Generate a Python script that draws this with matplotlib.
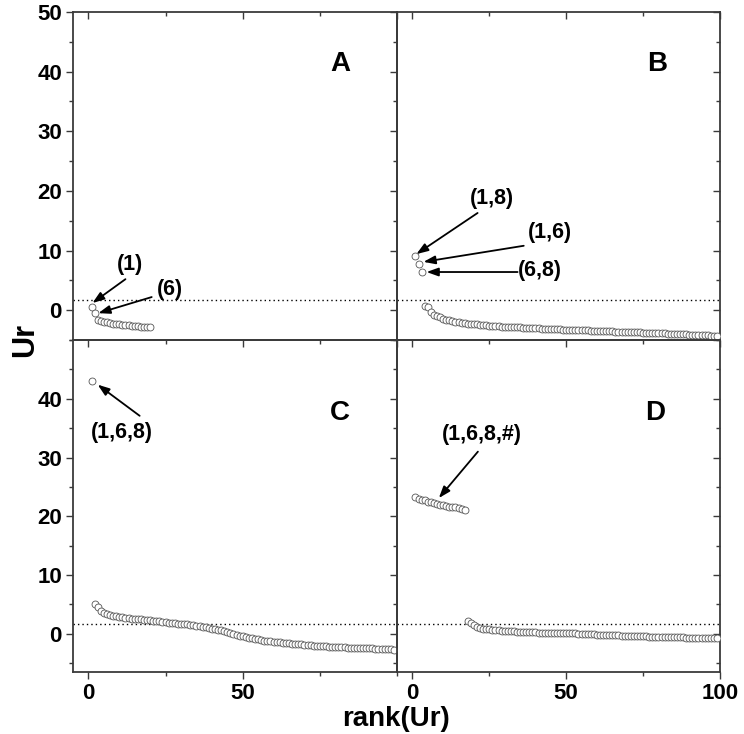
import numpy as np
import matplotlib
matplotlib.use('Agg')
from matplotlib import pyplot as plt
from matplotlib.ticker import MultipleLocator

plt.rcParams['font.family'] = ['Liberation Sans', 'DejaVu Sans']
plt.rcParams['font.weight'] = 'bold'

# Ur values ordered by rank, one list per panel
ur_A = [0.5, -0.4, -1.6, -1.8, -1.95, -2.05, -2.15, -2.25, -2.3, -2.4,
        -2.45, -2.5, -2.55, -2.6, -2.65, -2.7, -2.75, -2.8, -2.85, -2.9]

ur_B = [9.1, 7.7, 6.4, 0.7, 0.6,
        -0.3, -0.8, -1.0, -1.2, -1.4,
        -1.6, -1.7, -1.8, -1.9, -2.0,
        -2.1, -2.2, -2.25, -2.3, -2.35,
        -2.4, -2.45, -2.5, -2.55, -2.6,
        -2.65, -2.7, -2.72, -2.75, -2.78,
        -2.8, -2.83, -2.86, -2.88, -2.9,
        -2.93, -2.96, -2.98, -3.0, -3.03,
        -3.05, -3.08, -3.1, -3.12, -3.15,
        -3.17, -3.2, -3.22, -3.24, -3.26,
        -3.28, -3.3, -3.32, -3.34, -3.36,
        -3.38, -3.4, -3.42, -3.44, -3.46,
        -3.48, -3.5, -3.52, -3.54, -3.56,
        -3.58, -3.6, -3.62, -3.64, -3.66,
        -3.68, -3.7, -3.72, -3.74, -3.76,
        -3.78, -3.8, -3.82, -3.84, -3.86,
        -3.88, -3.9, -3.92, -3.94, -3.96,
        -3.98, -4.0, -4.02, -4.05, -4.08,
        -4.1, -4.13, -4.16, -4.19, -4.22,
        -4.24, -4.26, -4.28, -4.3]

ur_C = [43.0,
        5.0, 4.5, 3.9, 3.6, 3.4,
        3.2, 3.1, 3.0, 2.9, 2.8,
        2.7, 2.65, 2.6, 2.55, 2.5,
        2.45, 2.4, 2.35, 2.3, 2.25,
        2.2, 2.1, 2.0, 1.95, 1.9,
        1.85, 1.8, 1.75, 1.7, 1.65,
        1.6, 1.55, 1.5, 1.4, 1.3,
        1.2, 1.1, 1.0, 0.9, 0.8,
        0.7, 0.6, 0.45, 0.3, 0.15,
        0.0, -0.15, -0.3, -0.45, -0.55,
        -0.65, -0.75, -0.85, -0.95, -1.05,
        -1.15, -1.2, -1.3, -1.35, -1.4,
        -1.45, -1.5, -1.55, -1.6, -1.65,
        -1.7, -1.75, -1.8, -1.85, -1.9,
        -1.95, -2.0, -2.05, -2.1, -2.13,
        -2.16, -2.19, -2.22, -2.25, -2.28,
        -2.3, -2.32, -2.34, -2.36, -2.38,
        -2.4, -2.42, -2.44, -2.46, -2.48,
        -2.5, -2.52, -2.55, -2.58, -2.6,
        -2.63, -2.66, -2.7]

ur_D = [23.2, 23.0, 22.85, 22.7, 22.5, 22.35, 22.2, 22.05, 21.95, 21.85,
        21.75, 21.65, 21.55, 21.5, 21.4, 21.3, 21.0,
        2.1, 1.8, 1.5, 1.2, 1.0, 0.9, 0.8, 0.75, 0.7, 0.65, 0.6, 0.55,
        0.5, 0.45, 0.42, 0.4, 0.38, 0.35, 0.32, 0.3, 0.28, 0.25,
        0.23, 0.21, 0.2, 0.19, 0.18, 0.17, 0.16, 0.15, 0.14, 0.12,
        0.1, 0.09, 0.08, 0.06, 0.05,
        0.02, -0.01, -0.04, -0.07, -0.1, -0.12, -0.14, -0.16, -0.18,
        -0.2, -0.22, -0.25, -0.28, -0.3, -0.33, -0.35,
        -0.37, -0.38, -0.4, -0.41, -0.43, -0.44, -0.46, -0.47, -0.49,
        -0.5, -0.52, -0.53, -0.55, -0.56, -0.58, -0.6,
        -0.61, -0.62, -0.63, -0.64, -0.65, -0.66, -0.67, -0.68, -0.69,
        -0.7, -0.7, -0.71, -0.72]

threshold = 1.7
panel_letters = ['A', 'B', 'C', 'D']

# annotations: (text, text pos, arrow tail, arrow head)
notes_A = [('(1)', (13.6, 7.6), (12.0, 5.2), (1.3, 1.2)),
           ('(6)', (26.3, 3.4), (20.5, 2.2), (3.2, -0.5))]
notes_B = [('(1,8)', (25.7, 18.7), (21.2, 16.3), (1.3, 9.4)),
           ('(1,6)', (44.6, 13.1), (36.2, 10.8), (3.6, 8.1)),
           ('(6,8)', (41.4, 6.6), (34.2, 6.4), (4.6, 6.4))]
notes_C = [('(1,6,8)', (10.7, 34.2), (16.6, 37.1), (3.0, 42.4))]
notes_D = [('(1,6,8,#)', (22.6, 33.9), (21.3, 31.0), (8.6, 23.1))]

W, H = 744, 734
fig = plt.figure(figsize=(W / 100, H / 100), dpi=100)

x0, xm, x1 = 73, 397, 720
y0, ym, y1 = 12, 340, 672

def box(left, top, right, bottom):
    return [left / W, 1 - bottom / H, (right - left) / W, (bottom - top) / H]

axA = fig.add_axes(box(x0, y0, xm, ym))
axB = fig.add_axes(box(xm, y0, x1, ym))
axC = fig.add_axes(box(x0, ym, xm, y1))
axD = fig.add_axes(box(xm, ym, x1, y1))

spine_col = '#3a3a3a'

for ax, ur, notes, letter in zip([axA, axB, axC, axD], [ur_A, ur_B, ur_C, ur_D],
                                 [notes_A, notes_B, notes_C, notes_D], panel_letters):
    ax.set_facecolor('none')
    rank = np.arange(1, len(ur) + 1)
    ax.plot(rank, ur, 'o', ms=5.0, mfc='white', mec='#555555', mew=0.6, zorder=3)
    ax.axhline(threshold, color='black', ls=(0, (1, 2.2)), lw=1.0, zorder=2)
    ax.set_xlim(-5, 100)
    for s in ax.spines.values():
        s.set_color(spine_col)
        s.set_linewidth(1.3)
    ax.xaxis.set_major_locator(MultipleLocator(50))
    ax.xaxis.set_minor_locator(MultipleLocator(25))
    ax.yaxis.set_major_locator(MultipleLocator(10))
    ax.yaxis.set_minor_locator(MultipleLocator(5))
    ax.tick_params(which='both', direction='out', color=spine_col, width=1.0,
                   labelsize=16, pad=3)
    ax.tick_params(which='major', length=5)
    ax.tick_params(which='minor', length=3)
    for lab in ax.get_xticklabels() + ax.get_yticklabels():
        lab.set_fontweight('bold')
    for txt, tpos, tail, head in notes:
        ax.text(tpos[0], tpos[1], txt, fontsize=15.5, fontweight='bold',
                ha='center', va='center')
        ax.annotate('', xy=head, xytext=tail,
                    arrowprops=dict(arrowstyle='-|>,head_length=0.7,head_width=0.25',
                                    color='black', lw=1.3, shrinkA=0, shrinkB=0))

axA.set_ylim(-5, 50)
axB.set_ylim(-5, 50)
axC.set_ylim(-6.5, 50)
axD.set_ylim(-6.5, 50)

axA.text(81.5, 41.2, 'A', fontsize=20, fontweight='bold', ha='center', va='center')
axB.text(79.5, 41.2, 'B', fontsize=20, fontweight='bold', ha='center', va='center')
axC.text(81.5, 37.6, 'C', fontsize=20, fontweight='bold', ha='center', va='center')
axD.text(78.8, 37.6, 'D', fontsize=20, fontweight='bold', ha='center', va='center')

# label visibility
axA.tick_params(labelbottom=False)
axB.tick_params(labelbottom=False, labelleft=False)
axD.tick_params(labelleft=False)
axC.set_yticks([0, 10, 20, 30, 40])
axC.set_xticks([0, 50])

# mirrored ticks pointing inwards on the outer top and right spines
for ax in [axA, axB]:
    sec = ax.secondary_xaxis('top')
    sec.xaxis.set_major_locator(MultipleLocator(50))
    sec.xaxis.set_minor_locator(MultipleLocator(25))
    sec.tick_params(which='both', direction='in', labeltop=False, color=spine_col, width=1.0)
    sec.tick_params(which='major', length=5)
    sec.tick_params(which='minor', length=3)
    sec.spines['top'].set_visible(False)
for ax in [axB, axD]:
    sec = ax.secondary_yaxis('right')
    sec.yaxis.set_major_locator(MultipleLocator(10))
    sec.yaxis.set_minor_locator(MultipleLocator(5))
    sec.tick_params(which='both', direction='in', labelright=False, color=spine_col, width=1.0)
    sec.tick_params(which='major', length=5)
    sec.tick_params(which='minor', length=3)
    sec.spines['right'].set_visible(False)

fig.text((x0 + x1) / 2 / W, 1 - 719 / H, 'rank(Ur)', fontsize=20, fontweight='bold',
         ha='center', va='center')
fig.text(25 / W, 1 - ym / H, 'Ur', fontsize=22, fontweight='bold', rotation=90,
         ha='center', va='center')

fig.savefig('out.png', dpi=100)
